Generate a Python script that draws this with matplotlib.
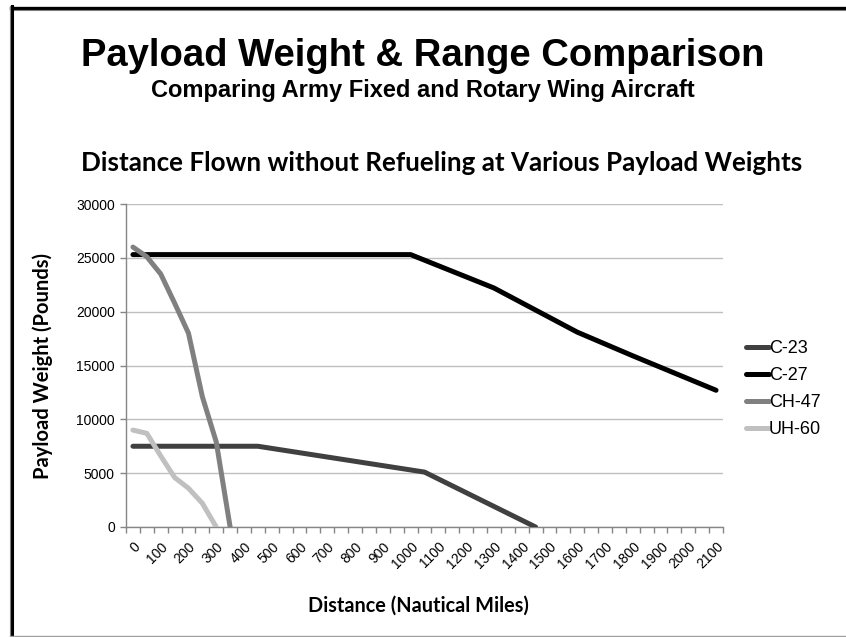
import matplotlib
matplotlib.use("Agg")
import matplotlib.pyplot as plt
from matplotlib.lines import Line2D
from matplotlib.ticker import FixedLocator

# Data (distance in nautical miles, payload in pounds)
c23_dist = [0, 450, 1050, 1450]
c23_load = [7500, 7500, 5100, 0]

c27_dist = [0, 1000, 1300, 1600, 1800, 2100]
c27_load = [25300, 25300, 22200, 18100, 15900, 12700]

ch47_dist = [0, 50, 100, 150, 200, 250, 300, 350]
ch47_load = [26000, 25100, 23500, 20800, 18000, 12100, 7900, 0]

uh60_dist = [0, 50, 100, 150, 200, 250, 300]
uh60_load = [9000, 8700, 6600, 4600, 3600, 2200, 0]

x_labels = list(range(0, 2101, 100))
y_ticks = list(range(0, 30001, 5000))

arial = ["Liberation Sans", "DejaVu Sans"]
calibri = ["Lato", "DejaVu Sans"]

fig = plt.figure(figsize=(8.46, 6.37), dpi=100)
ax = fig.add_axes([126 / 846, 1 - 527 / 637, (723 - 126) / 846, (527 - 204) / 637])

series = [
    ("C-23", c23_dist, c23_load, "#404040"),
    ("C-27", c27_dist, c27_load, "#000000"),
    ("CH-47", ch47_dist, ch47_load, "#808080"),
    ("UH-60", uh60_dist, uh60_load, "#c0c0c0"),
]
for name, xs, ys, col in series:
    ax.plot(xs, ys, color=col, lw=3.6, solid_capstyle="round",
            solid_joinstyle="round", label=name, zorder=3)

ax.set_xlim(-25, 2125)
ax.set_ylim(0, 30000)
ax.set_xticks(x_labels)
ax.set_xticklabels([str(v) for v in x_labels], rotation=45, ha="right",
                   va="top", rotation_mode="anchor", family=arial, fontsize=10)
ax.xaxis.set_minor_locator(FixedLocator([-25 + 50 * k for k in range(44)]))
ax.tick_params(axis="x", which="major", length=0, pad=9)
ax.tick_params(axis="x", which="minor", length=4, color="#868686", width=1)
ax.set_yticks(y_ticks)
ax.set_yticklabels([str(v) for v in y_ticks], family=arial, fontsize=10)
ax.tick_params(axis="y", length=4, color="#868686", width=1, pad=4)

ax.yaxis.grid(True, color="#bfbfbf", lw=1)
ax.set_axisbelow(True)
for s in ("top", "right"):
    ax.spines[s].set_visible(False)
for s in ("left", "bottom"):
    ax.spines[s].set_color("#868686")
    ax.spines[s].set_linewidth(1)

ax.set_xlabel("Distance (Nautical Miles)", family=calibri, fontweight="bold",
              fontsize=14.3, va="center")
ax.xaxis.set_label_coords((418 - 126) / (723 - 126), -(606 - 527) / (527 - 204))
ax.set_ylabel("Payload Weight (Pounds)", family=calibri, fontweight="bold",
              fontsize=14.5, va="center")
ax.yaxis.set_label_coords(-(126 - 43) / (723 - 126), (527 - 366) / (527 - 204))

fig.text(0.5, 1 - 56 / 637, "Payload Weight & Range Comparison", ha="center",
         va="center", family=arial, fontweight="bold", fontsize=27.5)
fig.text(0.5, 1 - 91 / 637, "Comparing Army Fixed and Rotary Wing Aircraft",
         ha="center", va="center", family=arial, fontweight="bold", fontsize=17)
fig.text(442 / 846, 1 - 163 / 637,
         "Distance Flown without Refueling at Various Payload Weights",
         ha="center", va="center", family=calibri, fontweight="bold", fontsize=18.7)

leg = ax.legend(loc="upper left", bbox_to_anchor=(739 / 846, 1 - 333 / 637),
                bbox_transform=fig.transFigure, frameon=False,
                prop={"family": arial, "size": 13}, handlelength=1.25,
                handletextpad=0.0, labelspacing=0.55, borderaxespad=0)

# page frame
fig.add_artist(Line2D([11 / 846, 1], [1 - 7.5 / 637] * 2, color="black", lw=2.4))
fig.add_artist(Line2D([11 / 846, 1], [1 - 10 / 637] * 2, color="#808080", lw=0.8))
fig.add_artist(Line2D([12 / 846] * 2, [1 - 636 / 637, 1 - 6 / 637], color="black", lw=2.2))
fig.add_artist(Line2D([9.5 / 846] * 2, [1 - 636 / 637, 1 - 6 / 637], color="#808080", lw=0.8))
fig.add_artist(Line2D([10 / 846, 1], [1 - 635.5 / 637] * 2, color="#a0a0a0", lw=1))

fig.savefig("out.png", dpi=100)
